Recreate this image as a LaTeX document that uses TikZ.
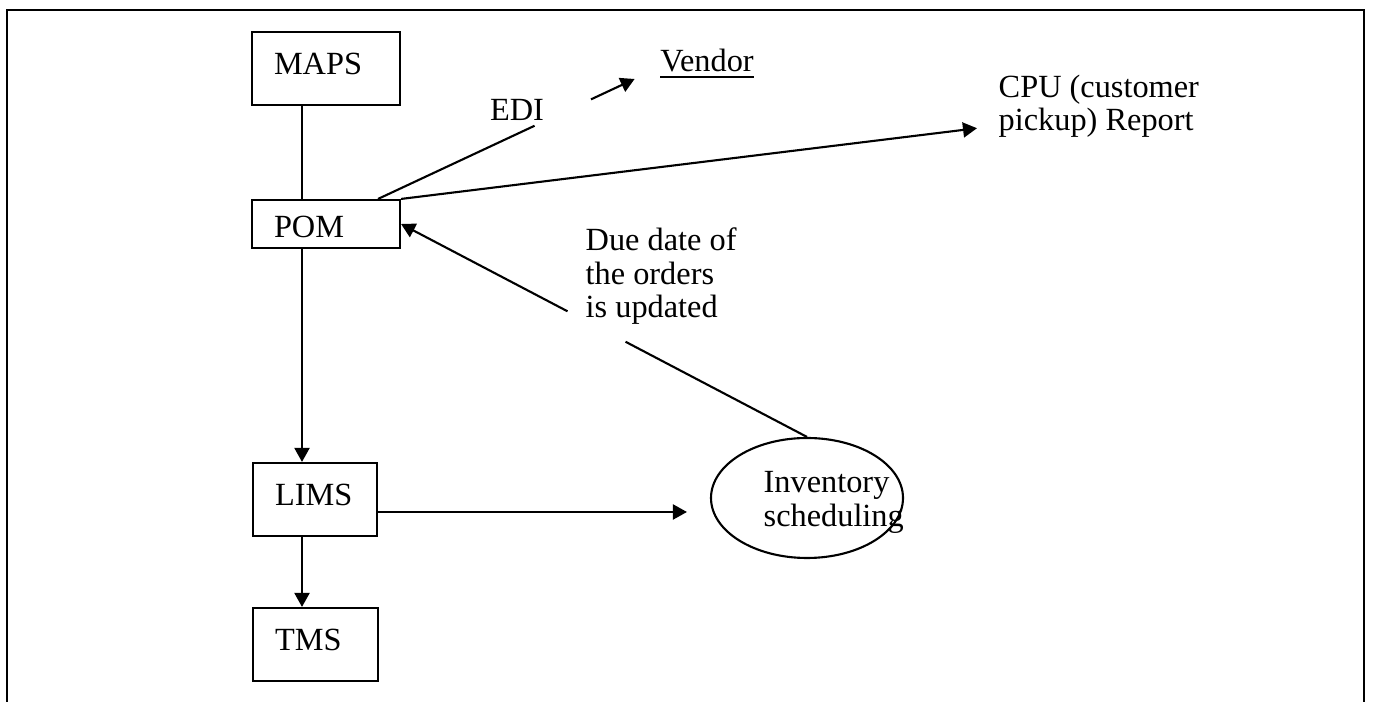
\documentclass[tikz,border=0pt]{standalone}
\usepackage{fontspec}
\setmainfont{Liberation Serif}
\usetikzlibrary{arrows.meta,shapes.geometric,calc}

\begin{document}
\begin{tikzpicture}[x=0.1mm,y=-0.1mm,
  every node/.style={font=\fontsize{9.2}{9.6}\selectfont, inner sep=0pt},
  sysbox/.style={draw, line width=0.6pt, inner xsep=2.2mm, inner ysep=0pt,
    align=left, text height=4.3mm, text depth=3mm},
  link/.style={line width=0.6pt},
  arr/.style={line width=0.6pt, -{Triangle[length=1.4mm,width=1.5mm]}}]
\useasboundingbox (0,0) rectangle (1373,702);
% frame, open at the bottom
\draw[line width=0.8pt] (7,702) -- (7,10) -- (1364,10) -- (1364,702);

\coordinate (spine) at (302,0);
\coordinate (lvl) at (0,512);

\node[sysbox, text width=10.4mm] (maps) at (326,68.5) {MAPS};
\node[sysbox, text width=10.4mm, text height=3.8mm, text depth=1mm] (pom) at (326,224) {POM};
\node[sysbox, text width=8mm] (lims) at (315,499.5) {LIMS};
\node[sysbox, text width=8.1mm] (tms) at (315.5,644.5) {TMS};

\node[draw, ellipse, line width=0.6pt, minimum width=19.2mm, minimum height=12mm] (inv) at (807,498) {};
\node[align=left, anchor=north west] (invlbl) at (763,471) {Inventory\\scheduling};

\node (vendor) at (707,64) {\underline{Vendor}};
\node (edi) at (517,110) {EDI};
\node[align=left, anchor=north west] (cpu) at (998,74) {CPU (customer\\pickup) Report};
\node[align=left, anchor=north west] (due) at (585,227) {Due date of\\the orders\\is updated};

% connectors
\draw[link] (maps.south -| spine) -- (pom.north -| spine);
\draw[arr] (pom.south -| spine) -- (lims.north -| spine);
\draw[arr] (lims.south -| spine) -- (tms.north -| spine);
\draw[arr, shorten >=2.3mm] (lims.east |- lvl) -- (inv.west |- lvl);
\draw[arr] (pom.north east) -- ([shift={(-21,22)}]cpu.west);

% EDI line to the vendor, broken by its label
\coordinate (edistart) at ([xshift=-2.3mm]pom.north east);
\coordinate (vtip) at ([shift={(-25,15)}]vendor.west);
\draw[link] (edistart) -- ($(edistart)!0.61!(vtip)$);
\draw[arr] ($(edistart)!0.83!(vtip)$) -- (vtip);

% due date goes back to POM
\draw[link] (inv.north) -- ($(inv.north)!0.447!(pom.east)$);
\draw[arr] ($(inv.north)!0.59!(pom.east)$) -- (pom.east);
\end{tikzpicture}
\end{document}
